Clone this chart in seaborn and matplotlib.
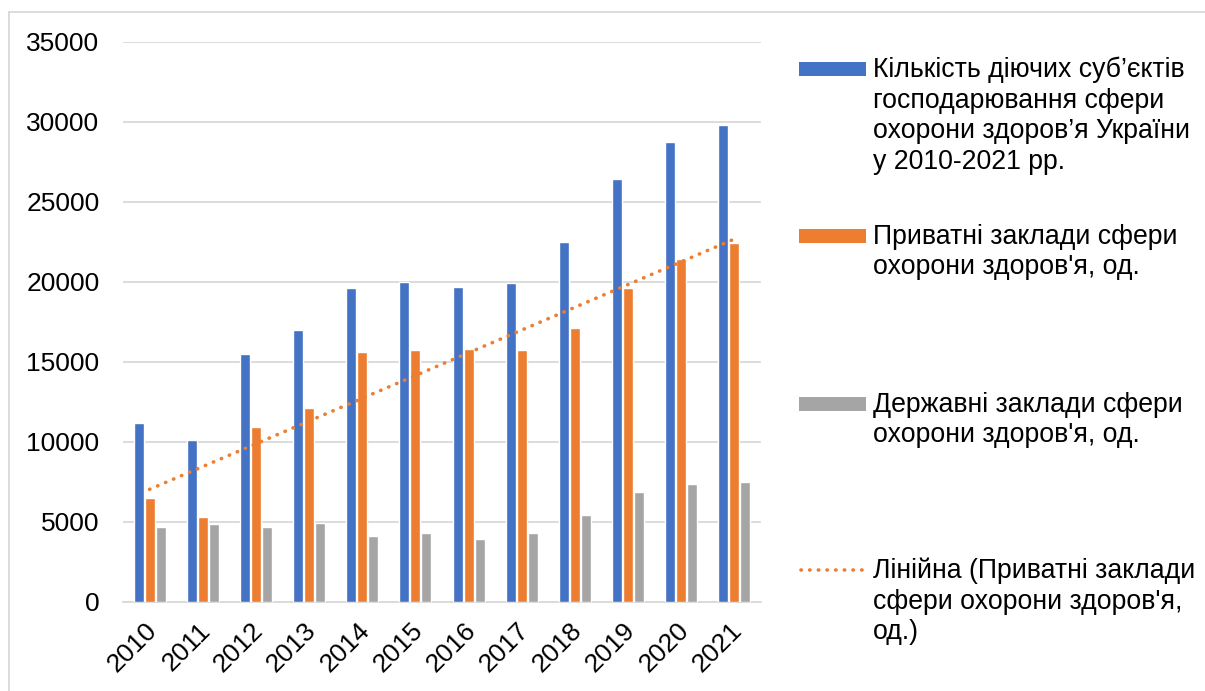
import numpy as np
import pandas as pd
import seaborn as sns
import matplotlib

matplotlib.use("Agg")
import matplotlib.pyplot as plt
import matplotlib.transforms as mtransforms
from matplotlib.patches import Rectangle
from matplotlib.lines import Line2D

# Chart data
years = ["2010", "2011", "2012", "2013", "2014", "2015",
         "2016", "2017", "2018", "2019", "2020", "2021"]
total_entities = [11150, 10100, 15480, 16980, 19620, 19960,
                  19650, 19940, 22460, 26440, 28710, 29810]
private_units = [6500, 5270, 10900, 12120, 15590, 15730,
                 15780, 15710, 17100, 19620, 21440, 22400]
state_units = [4690, 4880, 4650, 4940, 4110, 4290,
               3940, 4270, 5400, 6870, 7330, 7460]

series_names = ["total", "private", "state"]
series_colors = ["#4472C4", "#ED7D31", "#A5A5A5"]
legend_labels = [
    "Кількість діючих суб’єктів\nгосподарювання сфери\nохорони здоров’я України\nу 2010-2021 рр.",
    "Приватні заклади сфери\nохорони здоров'я, од.",
    "Державні заклади сфери\nохорони здоров'я, од.",
    "Лінійна (Приватні заклади\nсфери охорони здоров'я,\nод.)",
]
y_ticks = [0, 5000, 10000, 15000, 20000, 25000, 30000, 35000]

W, H = 1205, 691


def main():
    sns.set_theme(style="white")
    plt.rcParams["font.family"] = ["Liberation Sans", "DejaVu Sans"]

    df = pd.DataFrame({
        "year": years * 3,
        "value": total_entities + private_units + state_units,
        "series": np.repeat(series_names, len(years)),
    })

    fig = plt.figure(figsize=(W / 100, H / 100), dpi=100)
    ax = fig.add_axes([123 / W, 1 - 601.7 / H, (761 - 123) / W, (601.7 - 41.7) / H])

    sns.barplot(data=df, x="year", y="value", hue="series", order=years,
                hue_order=series_names, palette=series_colors, saturation=1,
                width=0.62, gap=0.08, legend=False, ax=ax, zorder=3)

    # Linear trend of the private series (Excel "Лінійна" trendline)
    xs = np.arange(len(years))
    k, b = np.polyfit(xs, private_units, 1)
    ax.plot(xs, k * xs + b, color="#ED7D31", lw=2.6,
            linestyle=(0, (0.1, 2.3)), dash_capstyle="round", zorder=4)

    ax.set_xlim(-0.5, len(years) - 0.5)
    ax.set_ylim(0, 35000)
    ax.set_yticks(y_ticks)
    ax.set_yticklabels([str(t) for t in y_ticks])
    ax.set_xlabel("")
    ax.set_ylabel("")
    ax.yaxis.grid(True, color="#d9d9d9", lw=1.3, zorder=0)
    ax.set_axisbelow(True)
    for side in ["top", "right", "left"]:
        ax.spines[side].set_visible(False)
    ax.spines["bottom"].set_color("#d9d9d9")
    ax.spines["bottom"].set_linewidth(1.3)
    ax.tick_params(axis="y", length=0, pad=17, labelsize=19, labelcolor="#000000")
    ax.tick_params(axis="x", length=0, pad=12, labelsize=19, labelcolor="#000000")
    # rotated year labels, nudged a little left like in the original
    shift = mtransforms.ScaledTranslation(-5 / 100, 0, fig.dpi_scale_trans)
    for lbl in ax.get_xticklabels():
        lbl.set_rotation(45)
        lbl.set_ha("right")
        lbl.set_rotation_mode("anchor")
        lbl.set_transform(lbl.get_transform() + shift)

    # Legend drawn by hand so the handle sits on the first text line
    entries = [(62, "patch", series_colors[0]), (229, "patch", series_colors[1]),
               (397, "patch", series_colors[2]), (563, "line", "#ED7D31")]
    for (top, kind, color), label in zip(entries, legend_labels):
        if kind == "patch":
            fig.add_artist(Rectangle((799 / W, 1 - (top + 13.5) / H), 67 / W, 13.5 / H,
                                     transform=fig.transFigure, color=color, lw=0))
        else:
            yy = 1 - (top + 7) / H
            fig.add_artist(Line2D([801 / W, 866 / W], [yy, yy], color=color, lw=2.6,
                                  linestyle=(0, (0.1, 2.3)), dash_capstyle="round",
                                  transform=fig.transFigure))
        fig.text(873 / W, 1 - (top - 5) / H, label, fontsize=19.2, va="top", ha="left",
                 linespacing=1.22, color="#000000")

    # Light frame of the chart area (left and top edges visible)
    fig.add_artist(Line2D([9 / W, 9 / W], [0, 1 - 12 / H], color="#d9d9d9", lw=1.3,
                          transform=fig.transFigure))
    fig.add_artist(Line2D([9 / W, 1], [1 - 12 / H, 1 - 12 / H], color="#d9d9d9", lw=1.3,
                          transform=fig.transFigure))

    fig.savefig("out.png", dpi=100)
    plt.close(fig)


if __name__ == "__main__":
    main()
